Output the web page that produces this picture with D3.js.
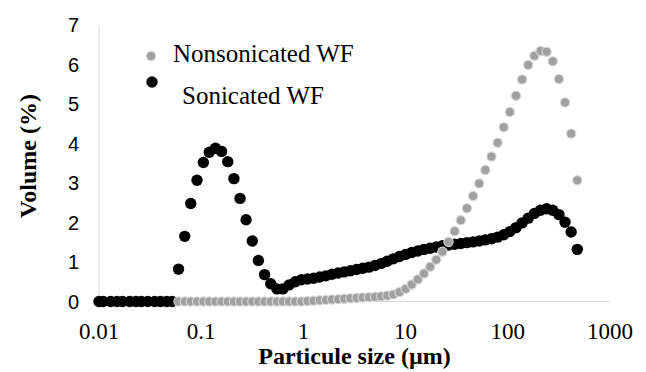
<!DOCTYPE html>
<html>
<head>
<meta charset="utf-8">
<script src="https://cdn.jsdelivr.net/npm/d3@7"></script>
<style>
  body { margin: 0; background: #fff; }
</style>
</head>
<body>
<script>
(function (d3) {
  'use strict';

  // particle size classes (µm), log spaced
  const sizes = [
    0.010, 0.011, 0.013, 0.015, 0.017, 0.020, 0.023, 0.026, 0.030, 0.035,
    0.040, 0.046, 0.052, 0.060, 0.069, 0.079, 0.091, 0.105, 0.120, 0.138,
    0.158, 0.182, 0.209, 0.240, 0.275, 0.316, 0.363, 0.417, 0.479, 0.550,
    0.631, 0.724, 0.832, 0.955, 1.096, 1.259, 1.445, 1.660, 1.905, 2.188,
    2.512, 2.884, 3.311, 3.802, 4.365, 5.012, 5.754, 6.607, 7.586, 8.710,
    10.000, 11.482, 13.183, 15.136, 17.378, 19.953, 22.909, 26.303, 30.200, 34.674,
    39.811, 45.709, 52.481, 60.256, 69.183, 79.433, 91.201, 104.713, 120.226, 138.038,
    158.489, 181.970, 208.930, 239.883, 275.423, 316.228, 363.078, 416.869, 478.630,
  ];

  // volume (%) per class
  const sonicated = [
    0, 0, 0, 0, 0, 0, 0, 0, 0, 0,
    0, 0, 0, 0.82, 1.65, 2.48, 3.07, 3.52, 3.78, 3.88,
    3.80, 3.54, 3.11, 2.61, 2.07, 1.53, 1.04, 0.68, 0.45, 0.32,
    0.32, 0.42, 0.50, 0.55, 0.57, 0.59, 0.62, 0.65, 0.69, 0.72,
    0.75, 0.78, 0.81, 0.84, 0.87, 0.91, 0.96, 1.02, 1.08, 1.14,
    1.19, 1.24, 1.28, 1.32, 1.35, 1.38, 1.41, 1.43, 1.45, 1.47,
    1.49, 1.51, 1.53, 1.56, 1.59, 1.63, 1.69, 1.77, 1.87, 1.99,
    2.11, 2.23, 2.31, 2.35, 2.31, 2.20, 2.01, 1.76, 1.32,
  ];

  const nonsonicated = [
    null, null, null, null, null, null, null, null, null, null,
    null, null, null, 0, 0, 0, 0, 0, 0, 0,
    0, 0, 0, 0, 0, 0, 0, 0, 0, 0,
    0, 0, 0, 0, 0.01, 0.02, 0.03, 0.04, 0.05, 0.06,
    0.07, 0.08, 0.09, 0.10, 0.11, 0.12, 0.13, 0.15, 0.18, 0.24,
    0.32, 0.43, 0.56, 0.71, 0.88, 1.06, 1.26, 1.51, 1.78, 2.06,
    2.36, 2.67, 2.99, 3.33, 3.67, 4.02, 4.41, 4.80, 5.21, 5.62,
    5.99, 6.22, 6.34, 6.32, 6.08, 5.63, 5.04, 4.25, 3.07,
  ];

  const xTicks = [0.01, 0.1, 1, 10, 100, 1000];
  const yTicks = [0, 1, 2, 3, 4, 5, 6, 7];
  const seriesNames = ['Nonsonicated WF', 'Sonicated WF'];

  const width = 646;
  const height = 372;
  const margin = { top: 25, right: 36, bottom: 70.5, left: 99 };

  const serif = "'Liberation Serif', 'Times New Roman', serif";
  const sans = "'Liberation Sans', Arial, sans-serif";

  const svg = d3.select('body')
    .append('svg')
    .attr('width', width)
    .attr('height', height);

  const x = d3.scaleLog()
    .domain([0.01, 1000])
    .range([margin.left, width - margin.right]);

  const y = d3.scaleLinear()
    .domain([0, 7])
    .range([height - margin.bottom, margin.top]);

  // axis lines (light grey, no ticks)
  svg.append('line')
    .attr('x1', x(0.01)).attr('x2', x(0.01))
    .attr('y1', y(7)).attr('y2', y(0))
    .attr('stroke', '#d9d9d9');

  svg.append('line')
    .attr('x1', x(0.01)).attr('x2', x(1000))
    .attr('y1', y(0)).attr('y2', y(0))
    .attr('stroke', '#d9d9d9');

  // tick labels
  svg.append('g')
    .selectAll('text')
    .data(yTicks)
    .join('text')
    .attr('x', 79)
    .attr('y', (d) => y(d))
    .attr('dy', '0.35em')
    .attr('text-anchor', 'end')
    .attr('font-family', sans)
    .attr('font-size', 20)
    .text((d) => d);

  svg.append('g')
    .selectAll('text')
    .data(xTicks)
    .join('text')
    .attr('x', (d) => x(d))
    .attr('y', 339)
    .attr('text-anchor', 'middle')
    .attr('font-family', serif)
    .attr('font-size', 23)
    .text((d) => d);

  // axis titles
  svg.append('text')
    .attr('x', (x(0.01) + x(1000)) / 2)
    .attr('y', 364)
    .attr('text-anchor', 'middle')
    .attr('font-family', serif)
    .attr('font-weight', 'bold')
    .attr('font-size', 24)
    .text('Particule size (µm)');

  svg.append('text')
    .attr('transform', 'translate(36,156) rotate(-90)')
    .attr('text-anchor', 'middle')
    .attr('font-family', serif)
    .attr('font-weight', 'bold')
    .attr('font-size', 24)
    .text('Volume (%)');

  const toPoints = (values) => sizes
    .map((s, i) => ({ s, v: values[i] }))
    .filter((d) => d.v !== null);

  // sonicated underneath, nonsonicated drawn over it
  svg.append('g')
    .selectAll('circle')
    .data(toPoints(sonicated))
    .join('circle')
    .attr('cx', (d) => x(d.s))
    .attr('cy', (d) => y(d.v))
    .attr('r', 5.7)
    .attr('fill', '#000');

  svg.append('g')
    .selectAll('circle')
    .data(toPoints(nonsonicated))
    .join('circle')
    .attr('cx', (d) => x(d.s))
    .attr('cy', (d) => y(d.v))
    .attr('r', 4.6)
    .attr('fill', '#a0a0a0')
    .attr('stroke', '#d6d6d6')
    .attr('stroke-width', 1.2);

  // legend
  const legend = svg.append('g');

  legend.append('circle')
    .attr('cx', 151).attr('cy', 56).attr('r', 4.6)
    .attr('fill', '#a0a0a0')
    .attr('stroke', '#d6d6d6')
    .attr('stroke-width', 1.2);

  legend.append('circle')
    .attr('cx', 152).attr('cy', 82).attr('r', 5.7)
    .attr('fill', '#000');

  legend.append('text')
    .attr('x', 173).attr('y', 62)
    .attr('font-family', serif)
    .attr('font-size', 25)
    .text(seriesNames[0]);

  legend.append('text')
    .attr('x', 182).attr('y', 104)
    .attr('font-family', serif)
    .attr('font-size', 25)
    .text(seriesNames[1]);

})(d3);
</script>
</body>
</html>
